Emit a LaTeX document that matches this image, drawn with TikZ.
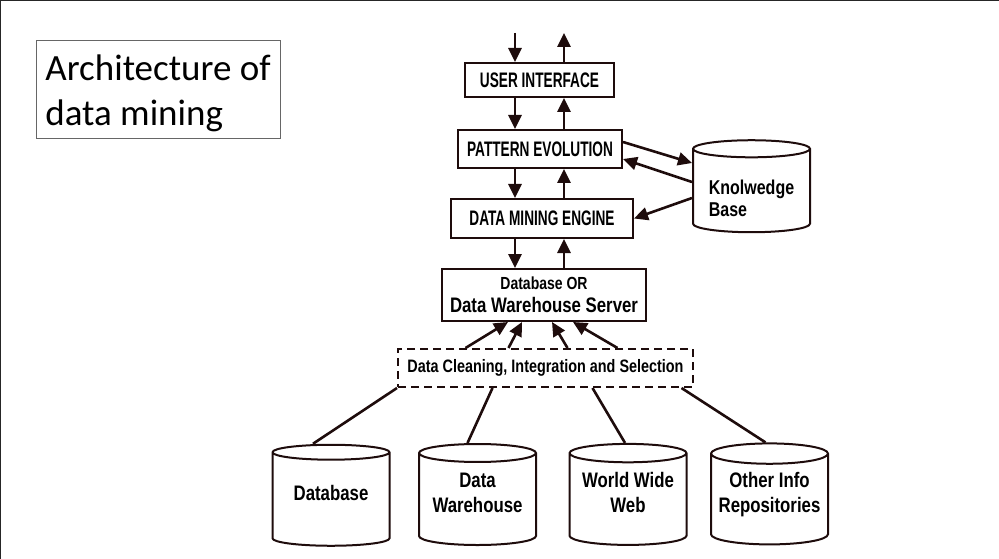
\documentclass[tikz,border=0pt]{standalone}
\usepackage{fontspec}
\setmainfont{Carlito}
\newfontfamily\capsfont[FakeStretch=0.65]{Liberation Sans}
\newfontfamily\lowfont[FakeStretch=0.8]{Liberation Sans}
\usetikzlibrary{arrows.meta, positioning, shapes.geometric}
\definecolor{ink}{RGB}{30,12,12}

\begin{document}
\begin{tikzpicture}[x=1pt,y=-1pt,
  box/.style={draw=ink, line width=2pt, inner sep=0pt, font=\capsfont\bfseries\fontsize{21}{24}\selectfont},
  store/.style={draw=ink, line width=2pt, cylinder, shape border rotate=90, aspect=0.2, minimum width=117pt, inner sep=0pt, align=center, text depth=14pt, font=\lowfont\bfseries\fontsize{21}{25}\selectfont},
  arr/.style={draw=ink, line width=2.6pt, -{Triangle[length=14pt,width=13pt]}},
  link/.style={draw=ink, line width=2.6pt}]
\useasboundingbox (0,0) rectangle (999,559);
\draw[line width=2pt, black!85] (0,559) -- (0,0) -- (999,0);

\node[draw=black!60, line width=0.8pt, minimum width=244pt, minimum height=98pt, align=left, text height=79pt, font=\fontsize{37}{45}\selectfont] (title) at (158,89) {Architecture of\\data mining};

\node[box, minimum width=149pt, minimum height=34pt] (ui) at (539.5,80) {USER INTERFACE};
\node[box, minimum width=164pt, minimum height=38pt] (pe) at (540,149) {PATTERN EVOLUTION};
\node[box, minimum width=182pt, minimum height=39pt] (dme) at (542,218.5) {DATA MINING ENGINE};
\node[box, minimum width=204pt, minimum height=52pt, align=center, font=\lowfont\bfseries\fontsize{21}{23}\selectfont] (dbs) at (544,295) {{\fontsize{17.5}{23}\selectfont Database OR}\\Data Warehouse Server};
\node[box, dash pattern=on 8pt off 5pt, minimum width=295pt, minimum height=38pt, font=\lowfont\bfseries\fontsize{18}{20}\selectfont] (clean) at (545.5,368) {Data Cleaning, Integration and Selection};

\node[store, minimum height=92pt, align=left, text depth=0pt, text height=51pt, font=\lowfont\bfseries\fontsize{20}{22}\selectfont] (kb) at (751.5,191) {Knolwedge\\Base};
\node[store, minimum height=101pt] (db) at (331,499.5) {Database};
\node[store, minimum height=101pt] (dw) at (477.5,499.5) {Data\\Warehouse};
\node[store, minimum height=101pt] (www) at (628,499.5) {World Wide\\Web};
\node[store, minimum height=101pt] (other) at (769.5,499.5) {Other Info\\Repositories};

\coordinate (userin) at (515,33);
\coordinate (userout) at (564,33);
\draw[arr] (userin) -- (userin |- ui.north);
\draw[arr] (userout |- ui.north) -- (userout);
\draw[arr] (userin |- ui.south) -- (userin |- pe.north);
\draw[arr] (userout |- pe.north) -- (userout |- ui.south);
\draw[arr] (userin |- pe.south) -- (userin |- dme.north);
\draw[arr] (userout |- dme.north) -- (userout |- pe.south);
\draw[arr] (userin |- dme.south) -- (userin |- dbs.north);
\draw[arr] (userout |- dbs.north) -- (userout |- dme.south);

\draw[arr] ([yshift=7pt]pe.east) -- ([yshift=28pt]kb.west);
\draw[arr] ([yshift=9pt]kb.west) -- ([yshift=-10pt]pe.east);
\draw[arr] ([yshift=-7pt]kb.west) -- (dme.east);

\draw[arr] ([xshift=-80pt]clean.north) -- ([xshift=-36pt]dbs.south);
\draw[arr] ([xshift=-37pt]clean.north) -- ([xshift=-22pt]dbs.south);
\draw[arr] ([xshift=22pt]clean.north) -- ([xshift=8pt]dbs.south);
\draw[arr] ([xshift=72pt]clean.north) -- ([xshift=29pt]dbs.south);

\draw[link] (clean.south west) -- ([xshift=-18pt]db.north);
\draw[link] ([xshift=-53pt]clean.south) -- ([xshift=-10pt]dw.north);
\draw[link] ([xshift=47pt]clean.south) -- ([xshift=-3pt]www.north);
\draw[link] ([xshift=136pt]clean.south) -- ([xshift=-4pt]other.north);
\end{tikzpicture}
\end{document}
